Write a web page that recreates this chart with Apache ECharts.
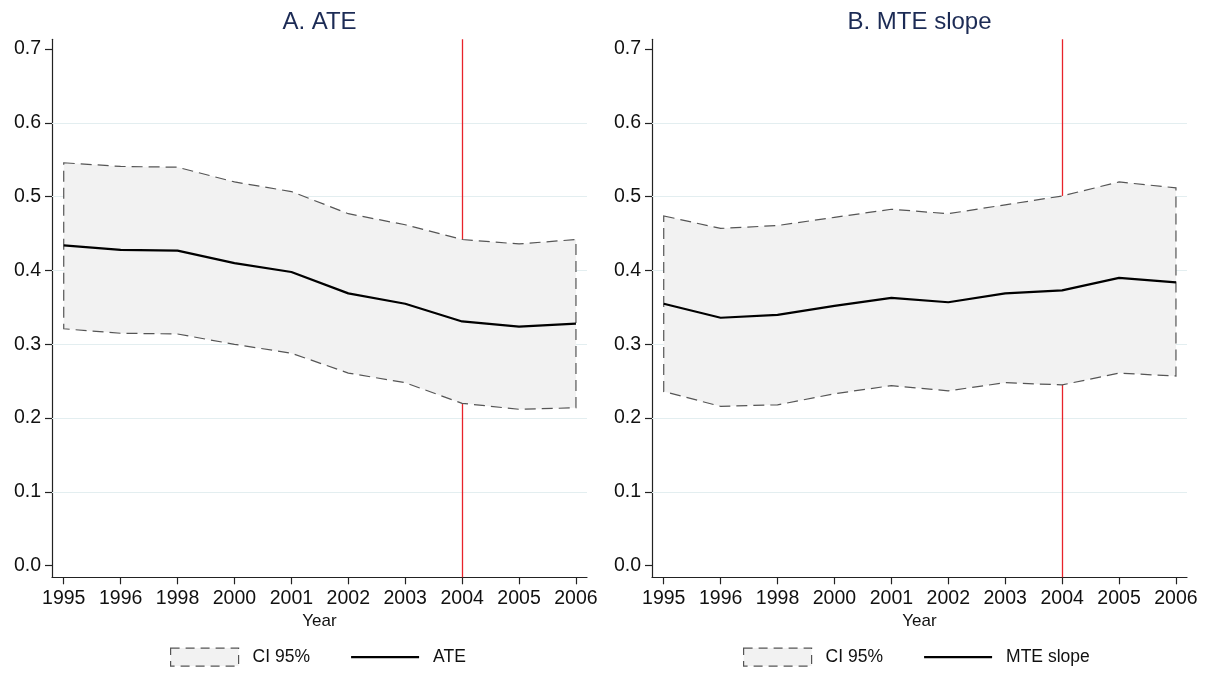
<!DOCTYPE html>
<html>
<head>
<meta charset="utf-8">
<script src="https://cdn.jsdelivr.net/npm/echarts@6/dist/echarts.min.js"></script>
<style>html,body{margin:0;padding:0;background:#fff;}#c{width:1211px;height:673px;}</style>
</head>
<body>
<div id="c"></div>
<script>
const years = ['1995','1996','1998','2000','2001','2002','2003','2004','2005','2006'];
const yTicks = [0, 0.1, 0.2, 0.3, 0.4, 0.5, 0.6, 0.7];
const gridValues = [0.1, 0.2, 0.3, 0.4, 0.5, 0.6];
const markYearIndex = 7; // 2004

const ateValues = [0.434, 0.428, 0.427, 0.410, 0.398, 0.369, 0.355, 0.331, 0.324, 0.328];
const ateUpper  = [0.546, 0.541, 0.540, 0.520, 0.507, 0.477, 0.462, 0.442, 0.436, 0.442];
const ateLower  = [0.321, 0.315, 0.314, 0.300, 0.288, 0.261, 0.248, 0.220, 0.212, 0.214];

const mteValues = [0.355, 0.336, 0.340, 0.352, 0.363, 0.357, 0.369, 0.373, 0.390, 0.384];
const mteUpper  = [0.474, 0.457, 0.461, 0.472, 0.483, 0.477, 0.489, 0.501, 0.520, 0.512];
const mteLower  = [0.236, 0.216, 0.218, 0.233, 0.244, 0.237, 0.248, 0.245, 0.261, 0.257];

const panels = [
  {title: 'A. ATE', lineName: 'ATE', values: ateValues, upper: ateUpper, lower: ateLower, left: 52},
  {title: 'B. MTE slope', lineName: 'MTE slope', values: mteValues, upper: mteUpper, lower: mteLower, left: 652}
];

const FONT = "'Liberation Sans', Arial, Helvetica, sans-serif";
const plotW = 535, plotTop = 39.3, plotH = 538;
const idx = years.map((_, i) => i);

const option = {
  animation: false,
  backgroundColor: '#fff',
  title: [], grid: [], xAxis: [], yAxis: [], series: [], legend: []
};

panels.forEach((p, k) => {
  option.title.push({
    text: p.title, left: p.left + plotW / 2, top: 10, textAlign: 'center', padding: 0,
    textStyle: {fontFamily: FONT, fontSize: 24, fontWeight: 'normal', color: '#1c2b55'}
  });
  option.grid.push({left: p.left, top: plotTop, width: plotW, height: plotH, containLabel: false});
  option.xAxis.push({
    type: 'value', gridIndex: k, min: -0.206, max: 9.194,
    name: 'Year', nameLocation: 'middle', nameGap: 32,
    nameTextStyle: {fontFamily: FONT, fontSize: 17, color: '#111'},
    axisLine: {onZero: false, lineStyle: {color: '#222', width: 1.2}},
    axisTick: {customValues: idx, length: 7, lineStyle: {color: '#222', width: 1.2}},
    axisLabel: {customValues: idx, margin: 11, fontFamily: FONT, fontSize: 19.5, color: '#111',
      formatter: v => years[Math.round(v)]},
    splitLine: {show: false}
  });
  option.yAxis.push({
    type: 'value', gridIndex: k, min: -0.0157, max: 0.7133,
    axisLine: {show: true, onZero: false, lineStyle: {color: '#222', width: 1.2}},
    axisTick: {show: true, customValues: yTicks, length: 7, lineStyle: {color: '#222', width: 1.2}},
    axisLabel: {customValues: yTicks, margin: 11, fontFamily: FONT, fontSize: 19.5, color: '#111',
      formatter: v => v.toFixed(1)},
    splitLine: {show: false}
  });
  // helper: gridlines and vertical reference line (drawn below the band)
  option.series.push({
    type: 'line', xAxisIndex: k, yAxisIndex: k, data: [], z: 1, silent: true,
    markLine: {
      z: 1, silent: true, symbol: 'none', label: {show: false}, animation: false,
      data: gridValues.map(v => ({yAxis: v, lineStyle: {color: '#e3eef0', width: 1.2, type: 'solid'}}))
        .concat([{xAxis: markYearIndex, lineStyle: {color: '#e8232a', width: 1.3, type: 'solid'}}])
    }
  });
  // CI band polygon
  option.series.push({
    type: 'custom', name: 'CI 95%', xAxisIndex: k, yAxisIndex: k, z: 3, silent: true,
    data: [[0, p.upper[0]]],
    itemStyle: {color: '#f2f2f2', borderColor: '#555', borderWidth: 1.2, borderType: [11, 6]},
    renderItem: function (params, api) {
      const pts = [];
      p.upper.forEach((v, i) => pts.push(api.coord([i, v])));
      for (let i = p.lower.length - 1; i >= 0; i--) pts.push(api.coord([i, p.lower[i]]));
      return {
        type: 'polygon',
        shape: {points: pts},
        style: {fill: '#f2f2f2', stroke: '#555', lineWidth: 1.2, lineDash: [11, 6]}
      };
    }
  });
  // point estimate line
  option.series.push({
    type: 'line', name: p.lineName, xAxisIndex: k, yAxisIndex: k, z: 4, silent: true,
    data: p.values.map((v, i) => [i, v]),
    symbol: 'none', showSymbol: false,
    lineStyle: {color: '#000', width: 2.2}, itemStyle: {color: '#000'}
  });
  option.legend.push({
    left: k === 0 ? 170 : 743, top: 647.5, padding: 0, orient: 'horizontal',
    itemWidth: 68, itemHeight: 18, itemGap: 40, selectedMode: false,
    textStyle: {fontFamily: FONT, fontSize: 17.5, color: '#111', padding: [0, 0, 0, 9]},
    data: [
      {name: 'CI 95%', icon: 'rect',
        itemStyle: {color: '#f2f2f2', borderColor: '#555', borderWidth: 1.2, borderType: [9, 6]}},
      {name: p.lineName,
        itemStyle: {color: 'rgba(0,0,0,0)', borderWidth: 0, opacity: 0},
        lineStyle: {color: '#000', width: 2.2}}
    ]
  });
});

const chart = echarts.init(document.getElementById('c'), null, {renderer: 'canvas'});
chart.setOption(option);
</script>
</body>
</html>
